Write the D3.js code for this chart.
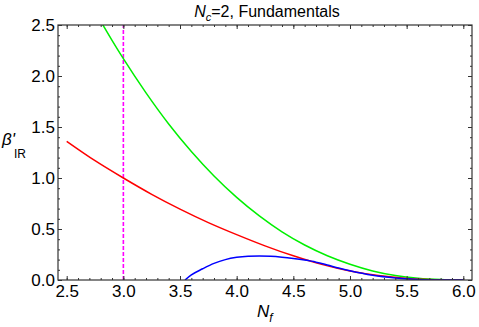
<!DOCTYPE html>
<html><head><meta charset="utf-8">
<script src="https://cdn.jsdelivr.net/npm/d3@7/dist/d3.min.js"></script>
<style>
body{margin:0;background:#fff}
text{font-family:"Liberation Sans",Arial,Helvetica,sans-serif;fill:#000}
</style>
</head><body>
<svg id="chart" width="479" height="327"></svg>
<script>
// ---- data ----
const xTicks = [2.5, 3.0, 3.5, 4.0, 4.5, 5.0, 5.5, 6.0];
const yTicks = [0.0, 0.5, 1.0, 1.5, 2.0, 2.5];

const greenNf = [2.78, 2.9, 3.0, 3.2, 3.4, 3.6, 3.8, 4.0, 4.2, 4.4, 4.6, 4.8, 5.0, 5.2, 5.4, 5.6, 5.8, 6.0];
const greenB  = [2.575, 2.35, 2.17, 1.835, 1.53, 1.26, 1.02, 0.81, 0.628, 0.472, 0.343, 0.238, 0.155, 0.089, 0.044, 0.017, 0.004, 0.0];

const redNf = [2.5, 2.75, 3.0, 3.25, 3.5, 3.75, 4.0, 4.25, 4.5, 4.75, 5.0, 5.25, 5.5, 5.75, 6.0];
const redB  = [1.36, 1.17, 1.0, 0.84, 0.695, 0.563, 0.445, 0.335, 0.237, 0.153, 0.088, 0.043, 0.015, 0.003, 0.0];

const blueNf = [3.544, 3.6, 3.7, 3.8, 3.9, 4.0, 4.1, 4.2, 4.3, 4.4, 4.5, 4.6, 4.7, 4.8, 4.9, 5.0, 5.2, 5.4, 5.6, 5.8, 6.0];
const blueB  = [0.0, 0.05, 0.11, 0.163, 0.2, 0.222, 0.233, 0.236, 0.233, 0.224, 0.211, 0.195, 0.175, 0.147, 0.117, 0.09, 0.046, 0.02, 0.006, 0.001, 0.0];

const lowerBoundNf = 3.0;

// ---- layout ----
const svg = d3.select("#chart");
const W = 479, H = 327;
const m = {left: 58, right: 7, top: 25, bottom: 47};
const x = d3.scaleLinear().domain([2.4232, 6.0768]).range([m.left, W - m.right]);
const y = d3.scaleLinear().domain([0, 2.5]).range([H - m.bottom, m.top]);

svg.append("defs").append("clipPath").attr("id", "clip")
  .append("rect").attr("x", m.left).attr("y", m.top)
  .attr("width", W - m.left - m.right).attr("height", H - m.top - m.bottom);

const plot = svg.append("g").attr("clip-path", "url(#clip)");

// vertical dashed line
plot.append("line")
  .attr("x1", x(lowerBoundNf)).attr("x2", x(lowerBoundNf))
  .attr("y1", y(0)).attr("y2", y(2.5))
  .attr("stroke", "#ff00ff").attr("stroke-width", 1.6)
  .attr("stroke-dasharray", "4,2");

const line = d3.line().x(d => x(d[0])).y(d => y(d[1])).curve(d3.curveMonotoneX);
const series = [
  {nf: greenNf, v: greenB, c: "#00f000"},
  {nf: redNf, v: redB, c: "#ff0000"},
  {nf: blueNf, v: blueB, c: "#0000ff"}
];
series.forEach(s => {
  plot.append("path").datum(s.nf.map((n, i) => [n, s.v[i]]))
    .attr("d", line).attr("fill", "none")
    .attr("stroke", s.c).attr("stroke-width", 1.5);
});

// ---- frame with ticks on all sides ----
const frameColor = "#333";
const fontSize = 17;
const xMinor = d3.range(25, 61).map(v => v / 10);
const yMinor = d3.range(0, 26).map(v => v / 10);

const gB = svg.append("g").attr("transform", `translate(0,${y(0)})`)
  .call(d3.axisBottom(x).tickValues(xMinor).tickSize(-2).tickFormat(""));
const gBM = svg.append("g").attr("transform", `translate(0,${y(0)})`)
  .call(d3.axisBottom(x).tickValues(xTicks).tickSize(-4).tickPadding(5).tickFormat(d3.format(".1f")));
const gT = svg.append("g").attr("transform", `translate(0,${y(2.5)})`)
  .call(d3.axisTop(x).tickValues(xMinor).tickSize(-2).tickFormat(""));
const gTM = svg.append("g").attr("transform", `translate(0,${y(2.5)})`)
  .call(d3.axisTop(x).tickValues(xTicks).tickSize(-4).tickFormat(""));
const gL = svg.append("g").attr("transform", `translate(${x.range()[0]},0)`)
  .call(d3.axisLeft(y).tickValues(yMinor).tickSize(-2).tickFormat(""));
const gLM = svg.append("g").attr("transform", `translate(${x.range()[0]},0)`)
  .call(d3.axisLeft(y).tickValues(yTicks).tickSize(-4).tickPadding(3).tickFormat(d3.format(".1f")));
const gR = svg.append("g").attr("transform", `translate(${x.range()[1]},0)`)
  .call(d3.axisRight(y).tickValues(yMinor).tickSize(-2).tickFormat(""));
const gRM = svg.append("g").attr("transform", `translate(${x.range()[1]},0)`)
  .call(d3.axisRight(y).tickValues(yTicks).tickSize(-4).tickFormat(""));

[gB, gBM, gT, gTM, gL, gLM, gR, gRM].forEach(g => {
  g.select(".domain").remove();
  g.selectAll(".tick line").attr("stroke", frameColor).attr("stroke-width", 1);
  g.selectAll(".tick text").attr("font-size", fontSize).attr("font-family", "Liberation Sans, Arial, sans-serif").attr("fill", "#000");
});

svg.append("rect")
  .attr("x", x.range()[0]).attr("y", y(2.5))
  .attr("width", x.range()[1] - x.range()[0]).attr("height", y(0) - y(2.5))
  .attr("fill", "none").attr("stroke", frameColor).attr("stroke-width", 1.2);

// ---- title and labels ----
const title = svg.append("text").attr("x", (x.range()[0] + x.range()[1]) / 2 + 2).attr("y", 17)
  .attr("text-anchor", "middle").attr("font-size", 16);
title.append("tspan").attr("font-style", "italic").text("N");
title.append("tspan").attr("font-style", "italic").attr("font-size", 11).attr("dy", 4).text("c");
title.append("tspan").attr("dy", -4).text("=2, Fundamentals");

const xl = svg.append("text").attr("x", 257).attr("y", 317).attr("font-size", 17);
xl.append("tspan").attr("font-style", "italic").text("N");
xl.append("tspan").attr("font-style", "italic").attr("font-size", 12).attr("dy", 5).text("f");

const yl = svg.append("text").attr("x", 2).attr("y", 145).attr("font-size", 17);
yl.append("tspan").attr("font-style", "italic").text("β'");
yl.append("tspan").attr("font-size", 12).attr("dx", -1).attr("dy", 13).text("IR");
</script>
</body></html>
